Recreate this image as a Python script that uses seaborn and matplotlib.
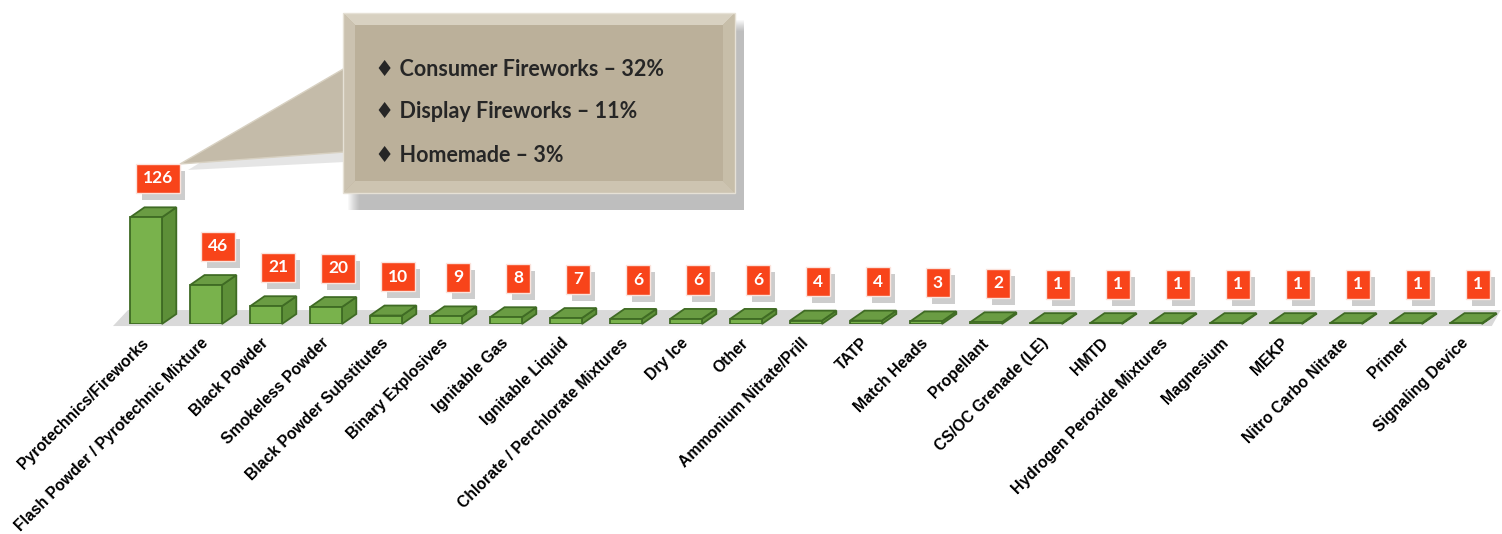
import matplotlib
matplotlib.use('Agg')
import matplotlib.pyplot as plt
import matplotlib.patheffects as pe
import seaborn as sns
from matplotlib.patches import Polygon, Rectangle

# data
categories = ["Pyrotechnics/Fireworks", "Flash Powder / Pyrotechnic Mixture", "Black Powder",
              "Smokeless Powder", "Black Powder Substitutes", "Binary Explosives", "Ignitable Gas",
              "Ignitable Liquid", "Chlorate / Perchlorate Mixtures", "Dry Ice", "Other",
              "Ammonium Nitrate/Prill", "TATP", "Match Heads", "Propellant", "CS/OC Grenade (LE)",
              "HMTD", "Hydrogen Peroxide Mixtures", "Magnesium", "MEKP", "Nitro Carbo Nitrate",
              "Primer", "Signaling Device"]
values = [126, 46, 21, 20, 10, 9, 8, 7, 6, 6, 6, 4, 4, 3, 2, 1, 1, 1, 1, 1, 1, 1, 1]
callout_lines = ["\u2666 Consumer Fireworks \u2013 32%",
                 "\u2666 Display Fireworks \u2013 11%",
                 "\u2666 Homemade \u2013 3%"]

FRONT = '#79b24c'
SIDE = '#5d8f38'
TOP = '#6a9c43'
EDGE = '#3f6b24'
LABEL_RED = '#f8441a'

sns.set_style('white')
plt.rcParams['font.family'] = ['Liberation Sans', 'DejaVu Sans']

fig = plt.figure(figsize=(15.02, 5.34), dpi=100)
ax = fig.add_axes([116 / 1502, 210 / 534, 1380 / 1502, 127 / 534])

sns.barplot(x=categories, y=values, ax=ax, color=FRONT, width=0.53,
            edgecolor=EDGE, linewidth=1.3, saturation=1, zorder=3)
ax.set_xlim(-0.5, 22.5)
ax.set_ylim(0, 150)

# depth of the fake 3d boxes (data units)
dx, dy = 0.24, 11.8

bars = list(ax.patches)

# floor
ax.add_patch(Polygon([(-0.55, -2.4), (22.43, -2.4), (22.58, 16.5), (-0.3, 16.5)],
                     closed=True, fc='#d9d9d9', ec='none', zorder=1, clip_on=False))

for bar in bars:
    x0 = bar.get_x()
    w = bar.get_width()
    h = bar.get_height()
    side = Polygon([(x0 + w, 0), (x0 + w + dx, dy), (x0 + w + dx, h + dy), (x0 + w, h)],
                   closed=True, fc=SIDE, ec=EDGE, lw=1.3, zorder=2.9, clip_on=False)
    top = Polygon([(x0, h), (x0 + dx, h + dy), (x0 + w + dx, h + dy), (x0 + w, h)],
                  closed=True, fc=TOP, ec=EDGE, lw=1.3, zorder=2.9, clip_on=False)
    ax.add_patch(side)
    ax.add_patch(top)

# value labels
for i, v in enumerate(values):
    t = ax.annotate(str(v), xy=(i + 0.2, v), xytext=(0, 28), textcoords='offset points',
                    ha='center', va='center', fontsize=12.5, fontweight='bold', color='white',
                    family=['Lato', 'DejaVu Sans'], annotation_clip=False, zorder=5,
                    bbox=dict(boxstyle='square,pad=0.38', fc=LABEL_RED, ec='#fbe3dc', lw=1))
    t.get_bbox_patch().set_path_effects([
        pe.SimplePatchShadow(offset=(4, -5), shadow_rgbFace='#707070', alpha=0.35),
        pe.Normal()])

ax.set_xticks(range(len(categories)))
ax.set_xticklabels(categories, rotation=45, ha='right', va='center',
                   rotation_mode='anchor', fontsize=11.3, fontweight='bold', color='black')
ax.tick_params(axis='x', length=0, pad=12)
ax.set_yticks([])
ax.set_ylabel('')
for s in ax.spines.values():
    s.set_visible(False)
ax.patch.set_alpha(0)

# callout box in pixel coordinates
ov = fig.add_axes([0, 0, 1, 1], zorder=-1)
ov.set_xlim(0, 1502)
ov.set_ylim(534, 0)
ov.axis('off')
ov.patch.set_alpha(0)

# soft shadow
for k in range(12):
    ov.add_patch(Rectangle((348 + k, 20 + k), 396 - k, 190 - k, fc='#606060', ec='none', alpha=0.04))
ov.add_patch(Polygon([(345, 74), (188, 170), (345, 162)], closed=True, fc='#808080', ec='none', alpha=0.2))
ov.add_patch(Polygon([(345, 68), (180, 164), (345, 152)], closed=True, fc='#c4bba9', ec='#d8d1c2', lw=1))

x0, y0, x1, y1, b = 343, 13, 735, 193, 12
ov.add_patch(Rectangle((x0, y0), x1 - x0, y1 - y0, fc='#bbb09a', ec='none'))
ov.add_patch(Polygon([(x0, y0), (x1, y0), (x1 - b, y0 + b), (x0 + b, y0 + b)], fc='#d8d1c1', ec='none'))
ov.add_patch(Polygon([(x0, y0), (x0 + b, y0 + b), (x0 + b, y1 - b), (x0, y1)], fc='#cbc2b0', ec='none'))
ov.add_patch(Polygon([(x1, y0), (x1, y1), (x1 - b, y1 - b), (x1 - b, y0 + b)], fc='#c7bea9', ec='none'))
ov.add_patch(Polygon([(x0, y1), (x1, y1), (x1 - b, y1 - b), (x0 + b, y1 - b)], fc='#cdc4b1', ec='none'))
ov.add_patch(Rectangle((x0, y0), x1 - x0, y1 - y0, fc='none', ec='#e6e1d6', lw=1))

for line, yy in zip(callout_lines, [69, 111, 155]):
    ov.text(375, yy, line, ha='left', va='center', fontsize=15.5, fontweight='bold',
            color='#262626', family=['Lato', 'DejaVu Sans'])

fig.savefig('out.png', dpi=100)
